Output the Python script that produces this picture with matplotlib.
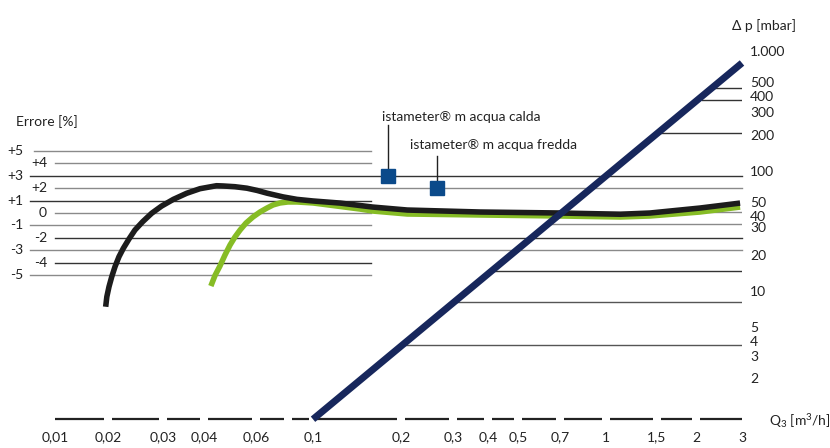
import numpy as np
import matplotlib.pyplot as plt
import matplotlib.transforms as mtransforms

plt.rcParams['font.family'] = ['Lato', 'DejaVu Sans']
plt.rcParams['mathtext.fontset'] = 'custom'
plt.rcParams['mathtext.rm'] = 'Lato'
plt.rcParams['mathtext.default'] = 'regular'

# --- data -------------------------------------------------------------
q_ticks = [0.01, 0.02, 0.03, 0.04, 0.06, 0.1, 0.2, 0.3, 0.4, 0.5, 0.7, 1, 1.5, 2, 3]
q_labels = ['0,01', '0,02', '0,03', '0,04', '0,06', '0,1', '0,2', '0,3', '0,4',
            '0,5', '0,7', '1', '1,5', '2', '3']

# istameter m acqua calda (black)
calda_q = [0.0194, 0.0197, 0.02015, 0.02056, 0.02106, 0.02169, 0.02239, 0.02334,
           0.0244, 0.02583, 0.0276, 0.0297, 0.03226, 0.03542, 0.03889, 0.0441,
           0.0464, 0.0509, 0.0559, 0.0606, 0.0662, 0.0764, 0.0866, 0.1, 0.124,
           0.16, 0.21, 0.375, 0.7, 1.12, 1.42, 2.07, 2.95]
calda_err = [-7.56, -6.75, -5.94, -5.14, -4.33, -3.52, -2.85, -2.10, -1.37, -0.70,
             -0.02, 0.56, 1.10, 1.59, 1.96, 2.2, 2.18, 2.12, 2.0, 1.82, 1.6, 1.3,
             1.1, 0.97, 0.8, 0.48, 0.24, 0.08, 0.0, -0.1, 0.0, 0.4, 0.8]

# istameter m acqua fredda (green)
fredda_q = [0.0422, 0.04358, 0.0453, 0.0471, 0.049, 0.0509, 0.053, 0.0555, 0.0586,
            0.0622, 0.0662, 0.0699, 0.0744, 0.0799, 0.0866, 0.1, 0.1208, 0.1448,
            0.16, 0.21, 0.375, 0.7, 1.12, 1.42, 2.07, 2.95]
fredda_err = [-5.89, -5.04, -4.27, -3.39, -2.58, -1.94, -1.37, -0.81, -0.32, 0.08,
              0.40, 0.65, 0.81, 0.89, 0.89, 0.81, 0.56, 0.32, 0.16, -0.08, -0.16,
              -0.24, -0.32, -0.24, 0.08, 0.48]

# pressure loss (navy line)
dp_q = [0.1, 3]
dp_mbar = [0.87, 810]

err_levels = [5, 4, 3, 2, 1, 0, -1, -2, -3, -4, -5]
err_labels = ['+5', '+4', '+3', '+2', '+1', '0', '-1', '-2', '-3', '-4', '-5']

dp_ticks = [1000, 500, 400, 300, 200, 100, 50, 40, 30, 20, 10, 5, 4, 3, 2]
dp_labels = ['1.000', '500', '400', '300', '200', '100', '50', '40', '30', '20',
             '10', '5', '4', '3', '2']
dp_grid = [501, 398, 211, 46.4, 36.9, 15.0, 8.25, 3.61]

# --- figure -----------------------------------------------------------
W, H = 830, 448
fig = plt.figure(figsize=(W / 100, H / 100), dpi=100)
ax = fig.add_axes([55 / W, 29 / H, 687 / W, 379 / H])

# the printed x axis is only roughly logarithmic: map through the tick positions
tick_px = np.array([55, 108, 163, 204, 256, 313, 401, 453, 488, 518, 560, 606, 657, 696, 742], float)
log_t = np.log10(q_ticks)


def fwd(q):
    lq = np.log10(np.clip(np.asarray(q, float), 1e-9, None))
    return np.interp(lq, log_t, tick_px)


def inv(p):
    return 10 ** np.interp(p, tick_px, log_t)


ax.set_xscale('function', functions=(fwd, inv))
ax.set_xlim(0.01, 3)
ax.set_ylim(-16.61, 13.95)

ax2 = ax.twinx()
ax2.set_yscale('log')
ax2.set_ylim(0.874, 1259)

for a in (ax, ax2):
    for s in a.spines.values():
        s.set_visible(False)
ax.set_yticks([])
ax2.set_yticks([])
ax2.minorticks_off()
ax2.tick_params(which='both', right=False, labelright=False)

ax.set_xticks(q_ticks, q_labels)
ax.xaxis.set_minor_locator(plt.NullLocator())
ax.tick_params(axis='x', length=0, pad=9, labelsize=10, labelcolor='#222222')

# error grid lines (left part)
fig_y = mtransforms.blended_transform_factory(fig.transFigure, ax.transData)
line_start = [34, 55, 30, 55, 30, 55, 30, 55, 30, 55, 30]
line_end = [371, 371, 742, 742, 371, 371, 371, 742, 742, 371, 371]
line_col = ['#8a8a8a', '#8a8a8a', '#333333', '#8a8a8a', '#333333', '#8a8a8a',
            '#8a8a8a', '#333333', '#8a8a8a', '#333333', '#8a8a8a']
label_x = [23, 47, 23, 47, 23, 47, 23, 47, 23, 47, 23]
for e, lab, x0, x1, c, lx in zip(err_levels, err_labels, line_start, line_end, line_col, label_x):
    ax.plot([x0 / W, x1 / W], [e, e], color=c, lw=1.0, transform=fig_y,
            clip_on=False, zorder=1)
    ax.text(lx / W, e, lab, transform=fig_y, ha='right', va='center',
            fontsize=10, color='#222222')

# pressure grid lines, from the navy line to the right edge
dp_y = mtransforms.blended_transform_factory(ax.transData, ax2.transData)
grid_start = 10 ** np.interp(np.log10(dp_grid), np.log10(dp_mbar), np.log10(dp_q))
grid_col = ['#333333', '#333333', '#333333', '#8a8a8a', '#8a8a8a', '#333333',
            '#555555', '#555555']
for v, q0, c in zip(dp_grid, grid_start, grid_col):
    ax.plot([q0, 3], [v, v], color=c, lw=1.0, transform=dp_y, zorder=1)

# curves
ax.plot(calda_q, calda_err, color='#1c1c1c', lw=4.0, solid_capstyle='butt',
        solid_joinstyle='round', zorder=3)
ax.plot(fredda_q, fredda_err, color='#86bc25', lw=4.0, solid_capstyle='butt',
        solid_joinstyle='round', zorder=2)
ax2.plot(dp_q, dp_mbar, color='#17275c', lw=5.0, solid_capstyle='butt',
         clip_on=False, zorder=4)

# dashed bottom axis
breaks = [0.01, 0.02, 0.03, 0.04, 0.06, 0.08, 0.1, 0.2, 0.3, 0.4, 0.5, 0.7, 1, 1.5, 2, 3]
x_ax = mtransforms.blended_transform_factory(ax.transData, ax.transAxes)
bp = fwd(breaks)
for i in range(len(breaks) - 1):
    a0 = bp[i] + (0 if i == 0 else 4)
    a1 = bp[i + 1] - (0 if i == len(breaks) - 2 else 4)
    ax.plot(inv([a0, a1]), [0, 0], color='#222222', lw=1.6, transform=x_ax,
            clip_on=False, solid_capstyle='butt', zorder=2)

# legend markers
sq_col = '#0b4a8a'
ax.plot([0.1805, 0.1805], [3, 7.1], color='#222222', lw=1.0, zorder=2)
ax.plot([0.265, 0.265], [2, 4.6], color='#222222', lw=1.0, zorder=2)
ax.plot([0.1805], [3], 's', ms=9.8, color=sq_col, zorder=5)
ax.plot([0.265], [2], 's', ms=9.8, color=sq_col, zorder=5)
ax.text(0.172, 7.75, 'istameter® m acqua calda', fontsize=10, va='center',
        ha='left', color='#222222')
ax.text(0.2145, 5.5, 'istameter® m acqua fredda', fontsize=10, va='center',
        ha='left', color='#222222')

# right-hand pressure labels
nudge = {500: 5, 400: 3, 300: 2, 50: 5, 40: 3, 30: 7, 4: -2, 3: -2, 2: -3}
r_tr = mtransforms.blended_transform_factory(ax2.transAxes, ax2.transData)
for v, lab in zip(dp_ticks, dp_labels):
    off = mtransforms.ScaledTranslation(0, nudge.get(v, 0) / 100, fig.dpi_scale_trans)
    ax2.text(1 + 8 / 687, v, lab, transform=r_tr + off, ha='left', va='center',
             fontsize=10, color='#222222')

# axis titles
fig.text(16 / W, 1 - 122 / H, 'Errore [%]', ha='left', va='center', fontsize=10,
         color='#222222')
fig.text(764 / W, 1 - 26 / H, 'Δ p [mbar]', ha='center', va='center', fontsize=10,
         color='#222222')
fig.text(769 / W, 1 - 421 / H, 'Q$_3$ [m$^3$/h]', ha='left', va='center',
         fontsize=10, color='#222222')

fig.savefig('out.png', dpi=100, facecolor='white')
